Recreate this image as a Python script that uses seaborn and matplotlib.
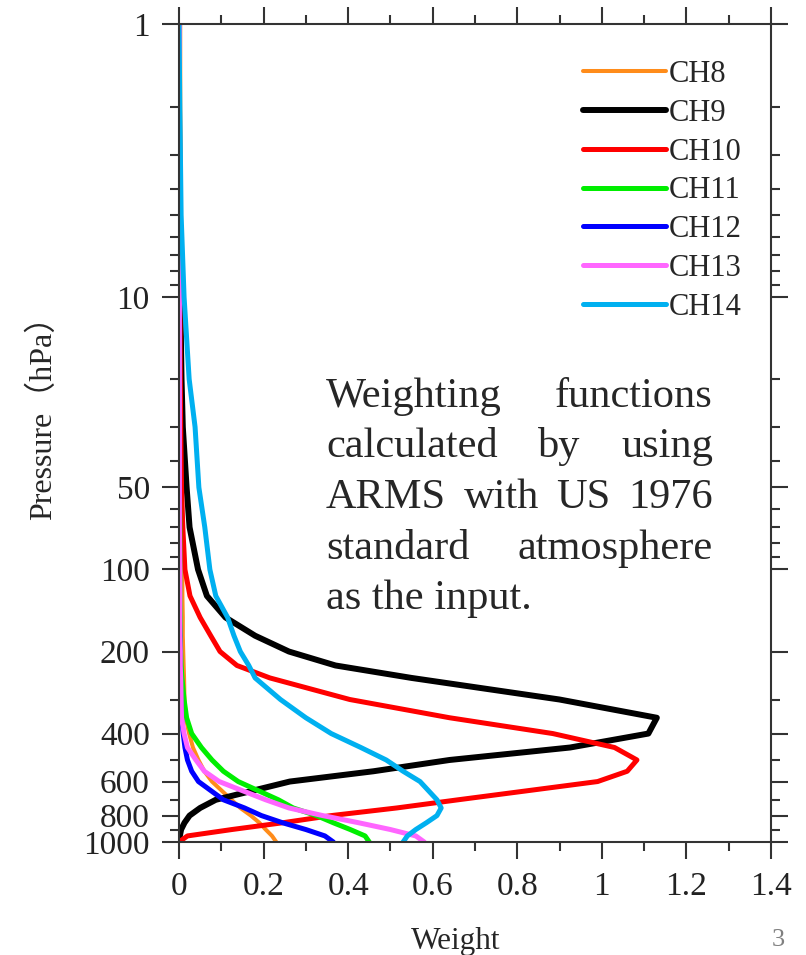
import numpy as np
import pandas as pd
import matplotlib
matplotlib.use('Agg')
import matplotlib.pyplot as plt
import seaborn as sns
from matplotlib.ticker import MultipleLocator, LogLocator, NullFormatter

# pressure levels (hPa) and weighting function values
pressure = [1, 2, 5, 10, 20, 30, 50, 70, 100, 125, 150, 175, 200, 225, 250,
            300, 350, 400, 450, 500, 550, 600, 700, 750, 800, 850, 900, 950, 1000]

ch8 = [0.003, 0.003, 0.004, 0.005, 0.005, 0.006, 0.006, 0.007, 0.008, 0.008, 0.009, 0.009, 0.010, 0.011, 0.012,
       0.013, 0.016, 0.024, 0.033, 0.046, 0.060, 0.078, 0.124, 0.145, 0.170, 0.190, 0.205, 0.220, 0.230]
ch9 = [0.0, 0.0, 0.001, 0.003, 0.006, 0.009, 0.018, 0.025, 0.045, 0.066, 0.110, 0.180, 0.260, 0.370, 0.550,
       0.900, 1.130, 1.110, 0.925, 0.640, 0.460, 0.262, 0.087, 0.050, 0.025, 0.013, 0.005, 0.002, 0.0]
ch10 = [0.001, 0.001, 0.002, 0.002, 0.003, 0.004, 0.006, 0.009, 0.014, 0.026, 0.050, 0.075, 0.097, 0.137, 0.215,
        0.404, 0.640, 0.884, 1.030, 1.083, 1.060, 0.990, 0.660, 0.515, 0.360, 0.245, 0.125, 0.020, 0.0]
ch11 = [0.001, 0.001, 0.001, 0.001, 0.001, 0.001, 0.001, 0.002, 0.002, 0.002, 0.003, 0.003, 0.004, 0.005, 0.007,
        0.012, 0.018, 0.030, 0.053, 0.078, 0.105, 0.140, 0.235, 0.270, 0.325, 0.365, 0.405, 0.440, 0.450]
ch12 = [0.0, 0.0, 0.0, 0.0, 0.0, 0.0, 0.001, 0.001, 0.001, 0.001, 0.001, 0.002, 0.002, 0.002, 0.003,
        0.004, 0.006, 0.010, 0.014, 0.020, 0.030, 0.046, 0.105, 0.155, 0.195, 0.245, 0.300, 0.345, 0.365]
ch13 = [0.001, 0.001, 0.001, 0.001, 0.001, 0.001, 0.001, 0.001, 0.002, 0.002, 0.002, 0.002, 0.003, 0.003, 0.004,
        0.005, 0.006, 0.012, 0.020, 0.040, 0.060, 0.095, 0.205, 0.260, 0.340, 0.425, 0.500, 0.560, 0.580]
ch14 = [0.0, 0.002, 0.005, 0.012, 0.024, 0.038, 0.047, 0.061, 0.073, 0.087, 0.115, 0.130, 0.145, 0.165, 0.180,
        0.240, 0.300, 0.360, 0.430, 0.490, 0.530, 0.570, 0.610, 0.620, 0.610, 0.585, 0.560, 0.540, 0.530]

channels = ['CH8', 'CH9', 'CH10', 'CH11', 'CH12', 'CH13', 'CH14']
weights = [ch8, ch9, ch10, ch11, ch12, ch13, ch14]
colors = ['#FF8C1A', '#000000', '#FF0000', '#00EE00', '#0000FF', '#FF66FF', '#00B0F0']
widths = [2.9, 4.3, 3.6, 3.6, 3.6, 3.6, 3.6]

rows = []
for name, w in zip(channels, weights):
    for p, v in zip(pressure, w):
        rows.append({'channel': name, 'pressure': p, 'weight': v})
df = pd.DataFrame(rows)

sns.set_style('ticks')
plt.rcParams['font.family'] = ['Liberation Serif', 'Noto Sans CJK SC', 'DejaVu Sans']

W, H = 806, 955
fig = plt.figure(figsize=(W / 100, H / 100), dpi=100)
ax = fig.add_axes([179 / W, 1 - 842 / H, 592 / W, 817.5 / H])

for name, c, lw in zip(channels, colors, widths):
    sns.lineplot(data=df[df['channel'] == name], x='weight', y='pressure',
                 sort=False, estimator=None, color=c, linewidth=lw,
                 label=name, ax=ax)

ax.set_yscale('log')
ax.set_ylim(1000, 1)
ax.set_xlim(0, 1.4)

xt = [0, 0.2, 0.4, 0.6, 0.8, 1.0, 1.2, 1.4]
ax.set_xticks(xt)
ax.set_xticklabels([f'{v:g}' for v in xt])
ax.xaxis.set_minor_locator(MultipleLocator(0.1))
yt = [1, 10, 50, 100, 200, 400, 600, 800, 1000]
ax.set_yticks(yt)
ax.set_yticklabels([str(v) for v in yt])
ax.yaxis.set_minor_locator(LogLocator(base=10, subs=np.arange(2, 10)))
ax.yaxis.set_minor_formatter(NullFormatter())

ax.tick_params(which='both', direction='out', top=True, right=True,
               width=1.5, color='#333333')
ax.tick_params(which='major', length=12, labelsize=24, pad=9, labelcolor='#222222')
ax.tick_params(which='minor', length=6.5)
for s in ax.spines.values():
    s.set_linewidth(1.5)
    s.set_color('#333333')

ax.set_xlabel('Weight', fontsize=22.5)
ax.xaxis.set_label_coords(0.468, -0.104)
ax.set_ylabel('Pressure（hPa）', fontsize=23)
ax.yaxis.set_label_coords(-0.205, 0.528)

ax.legend(loc='upper left', bbox_to_anchor=((583 - 179) / 592, 1 - (60 - 24.5) / 817.5),
          frameon=False, fontsize=22, handlelength=2.7, handletextpad=0.12,
          labelspacing=0.32, borderpad=0, borderaxespad=0)

# justified annotation block
ann_lines = ['Weighting functions', 'calculated by using', 'ARMS with US 1976',
             'standard atmosphere', 'as the input.']
baselines = [407, 457, 508, 559, 609]
left, right = 326 / W, 713 / W
fig.canvas.draw()
r = fig.canvas.get_renderer()
for i, line in enumerate(ann_lines):
    yb = 1 - baselines[i] / H
    if i == len(ann_lines) - 1:
        fig.text(left, yb, line, fontsize=30.5, va='baseline', ha='left')
        continue
    words = line.split()
    texts = [fig.text(0, yb, wd, fontsize=30.5, va='baseline', ha='left') for wd in words]
    ws = [t.get_window_extent(r).width / fig.bbox.width for t in texts]
    gap = (right - left - sum(ws)) / (len(words) - 1)
    x = left
    for t, wd in zip(texts, ws):
        t.set_x(x)
        x += wd + gap

fig.text(778 / W, 1 - 940 / H, '3', fontsize=19, color='#808080', ha='center', va='center')

fig.savefig('out.png', dpi=100)
